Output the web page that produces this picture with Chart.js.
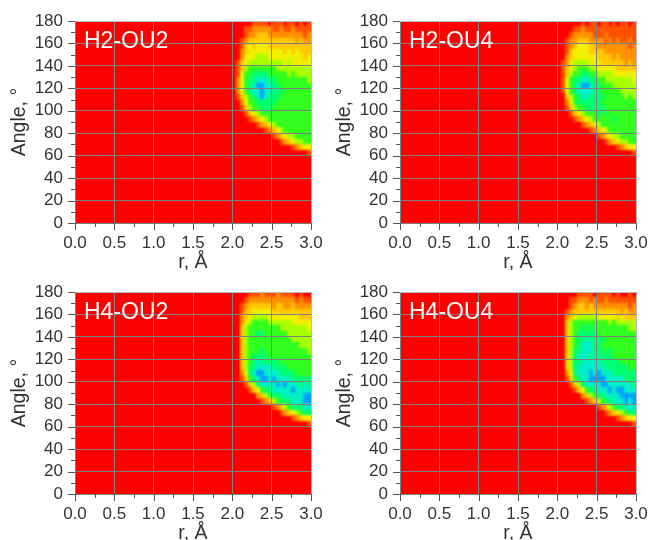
<!DOCTYPE html>
<html><head><meta charset="utf-8">
<style>
html,body{margin:0;padding:0;background:#fff;width:649px;height:540px;overflow:hidden}
.p{position:absolute;width:324px;height:270px;filter:blur(0.45px)}
canvas{display:block}
</style>
<script src="https://cdn.jsdelivr.net/npm/chart.js@4"></script>
</head><body>
<div class="p" style="left:0;top:0"><canvas id="c0" width="324" height="270"></canvas></div>
<div class="p" style="left:324.5px;top:0"><canvas id="c1" width="324" height="270"></canvas></div>
<div class="p" style="left:0;top:271px"><canvas id="c2" width="324" height="270"></canvas></div>
<div class="p" style="left:324.5px;top:271px"><canvas id="c3" width="324" height="270"></canvas></div>
<script>
// cell centres
const rValues=[2.025,2.075,2.125,2.175,2.225,2.275,2.325,2.375,2.425,2.475,2.525,2.575,2.625,2.675,2.725,2.775,2.825,2.875,2.925,2.975];
const angleValues=[177.5,172.5,167.5,162.5,157.5,152.5,147.5,142.5,137.5,132.5,127.5,122.5,117.5,112.5,107.5,102.5,97.5,92.5,87.5,82.5,77.5,72.5,67.5,62.5];
const panelNames=["H2-OU2","H2-OU4","H4-OU2","H4-OU4"];
const xTicks=[0,0.5,1,1.5,2,2.5,3];
const yTicks=[0,20,40,60,80,100,120,140,160,180];
const levelColours=["#ff0000","#ff5000","#ff9000","#ffc800","#f0f000","#a8ff00","#30ff20","#00ff70","#00f0c8","#00a0ff"];
const h2ou2=[
[0,0,0,0,0,1,1,1,1,0,1,1,1,0,1,1,0,1,0,1],
[0,0,0,1,1,2,2,2,2,2,1,1,2,1,1,2,1,1,1,1],
[0,0,0,1,2,2,3,3,3,2,2,2,2,2,2,2,2,2,1,2],
[0,0,1,2,3,3,3,3,3,3,3,3,3,3,3,3,2,3,2,2],
[0,0,1,3,4,3,4,4,4,3,3,3,3,3,3,3,3,3,3,3],
[0,0,2,3,4,4,4,4,4,4,4,4,4,3,4,3,4,3,3,3],
[0,0,2,4,4,4,5,5,5,4,4,4,4,4,4,4,4,4,3,4],
[0,1,3,4,5,5,5,5,5,5,5,5,5,4,5,4,4,4,4,4],
[0,1,3,5,6,6,6,6,6,6,6,5,5,5,5,5,5,5,5,5],
[0,1,4,6,6,7,7,7,7,6,6,6,6,6,5,6,5,5,5,5],
[0,2,4,6,7,7,8,8,8,7,7,6,6,6,6,6,6,6,6,5],
[0,2,4,6,7,8,9,9,8,8,7,7,6,6,6,6,6,6,6,6],
[0,2,4,6,7,8,8,9,8,8,7,7,7,6,6,6,6,6,6,6],
[0,1,3,5,6,7,8,9,8,7,7,7,6,6,6,6,6,6,6,6],
[0,0,2,4,6,6,7,7,7,7,7,6,6,6,6,6,6,6,6,6],
[0,0,1,3,5,6,6,7,7,7,6,6,6,6,6,6,6,6,6,6],
[0,0,0,1,3,4,5,6,6,6,6,6,6,6,6,6,6,6,6,6],
[0,0,0,0,1,2,3,4,5,6,6,6,6,6,6,6,6,6,6,6],
[0,0,0,0,0,0,1,2,3,4,5,6,6,6,6,6,6,6,6,6],
[0,0,0,0,0,0,0,0,1,2,3,4,5,6,6,6,6,6,6,6],
[0,0,0,0,0,0,0,0,0,0,1,2,3,4,5,5,6,6,6,6],
[0,0,0,0,0,0,0,0,0,0,0,0,1,2,3,4,5,5,6,6],
[0,0,0,0,0,0,0,0,0,0,0,0,0,0,0,1,2,3,4,4],
[0,0,0,0,0,0,0,0,0,0,0,0,0,0,0,0,0,0,0,1]];
const h2ou4=[
[0,0,0,0,0,0,1,0,1,1,0,1,1,0,1,0,1,1,0,1],
[0,0,0,0,1,1,2,1,1,1,1,1,1,1,1,1,1,1,1,1],
[0,0,0,1,2,2,2,2,2,1,1,1,2,1,1,1,1,1,1,1],
[0,0,1,2,2,3,3,3,2,2,2,2,1,2,1,2,1,1,2,1],
[0,0,1,2,3,4,4,4,3,3,2,2,2,2,2,2,2,2,1,2],
[0,0,1,3,4,4,4,4,3,3,3,3,2,2,2,2,2,2,2,2],
[0,0,2,3,4,4,4,4,4,4,3,3,3,3,2,3,2,2,2,2],
[0,1,2,4,5,5,5,5,4,4,4,3,3,3,3,3,3,2,3,2],
[0,1,3,4,5,6,6,6,5,5,4,4,4,4,4,3,3,3,3,3],
[0,1,3,5,6,6,7,7,6,6,5,5,5,5,4,4,4,4,4,4],
[0,1,4,6,7,7,8,8,7,7,6,6,5,5,5,5,5,5,5,4],
[0,1,4,6,7,8,9,9,8,7,7,6,6,6,5,5,5,5,5,5],
[0,1,4,6,7,8,8,8,8,7,7,6,6,6,6,6,5,5,5,5],
[0,0,3,5,6,7,8,8,7,7,7,7,6,6,6,6,6,5,6,5],
[0,0,2,4,6,7,7,7,7,7,7,6,6,6,6,6,6,6,6,6],
[0,0,1,3,5,6,6,7,7,7,7,7,6,6,6,6,6,6,6,6],
[0,0,0,1,3,4,5,6,6,6,7,6,7,6,6,6,6,6,6,6],
[0,0,0,0,1,2,3,4,5,6,6,6,6,6,7,6,6,6,6,6],
[0,0,0,0,0,0,1,2,3,4,5,6,6,6,6,6,6,6,6,6],
[0,0,0,0,0,0,0,0,1,2,3,4,5,6,6,6,6,6,6,6],
[0,0,0,0,0,0,0,0,0,0,1,2,3,4,5,5,6,6,6,6],
[0,0,0,0,0,0,0,0,0,0,0,0,1,2,3,4,5,5,6,6],
[0,0,0,0,0,0,0,0,0,0,0,0,0,0,0,1,2,3,4,4],
[0,0,0,0,0,0,0,0,0,0,0,0,0,0,0,0,0,0,0,1]];
const h4ou2=[
[0,0,0,0,1,1,1,2,1,1,1,2,1,1,1,1,0,1,0,0],
[0,0,0,1,2,2,2,2,2,2,2,2,2,2,2,2,1,2,1,1],
[0,0,1,2,3,3,3,3,3,3,2,3,3,2,2,3,2,2,2,2],
[0,0,1,3,3,4,4,4,4,4,3,3,3,3,3,3,3,3,3,3],
[0,0,2,3,4,5,5,5,5,4,4,4,4,4,4,4,4,3,3,3],
[0,0,2,4,5,6,6,6,6,5,5,5,5,5,5,4,4,4,4,4],
[0,0,3,5,6,6,6,6,6,6,6,6,5,5,5,5,5,5,5,4],
[0,0,3,5,6,6,7,7,6,6,6,6,6,6,5,5,5,5,5,5],
[0,0,3,5,6,6,6,6,6,6,6,6,6,6,6,5,5,5,5,5],
[0,0,3,5,6,6,6,6,6,6,6,6,6,6,6,6,6,5,5,5],
[0,0,3,5,6,6,6,7,6,6,6,6,6,6,6,6,6,6,6,5],
[0,0,3,5,6,7,7,7,7,6,6,6,6,6,6,6,6,6,6,6],
[0,0,3,5,6,7,8,7,7,7,7,7,6,6,6,6,6,6,6,6],
[0,0,3,5,7,7,8,8,8,8,7,7,7,7,6,6,6,6,6,6],
[0,0,2,4,7,8,9,9,8,8,8,8,7,7,7,7,6,6,6,6],
[0,0,1,3,6,7,8,9,9,8,9,8,8,8,8,7,7,7,7,7],
[0,0,0,1,3,5,7,8,8,8,8,9,8,9,8,8,8,7,8,7],
[0,0,0,0,1,3,4,6,7,7,8,8,8,8,8,9,8,8,8,8],
[0,0,0,0,0,0,2,3,5,6,7,7,7,8,8,8,8,8,9,9],
[0,0,0,0,0,0,0,1,2,3,5,6,7,7,7,8,8,8,9,9],
[0,0,0,0,0,0,0,0,0,0,1,2,3,5,6,7,7,7,8,8],
[0,0,0,0,0,0,0,0,0,0,0,0,1,2,3,4,5,6,7,7],
[0,0,0,0,0,0,0,0,0,0,0,0,0,0,0,1,2,3,4,4],
[0,0,0,0,0,0,0,0,0,0,0,0,0,0,0,0,0,0,0,1]];
const h4ou4=[
[0,0,0,0,0,1,1,1,1,0,1,1,1,1,0,1,0,0,1,0],
[0,0,0,1,1,2,2,2,1,2,1,1,2,1,1,1,1,1,1,1],
[0,0,0,1,2,3,3,2,3,2,2,2,2,2,2,2,2,2,1,2],
[0,0,1,2,3,3,3,3,3,3,3,3,3,3,3,3,2,3,2,2],
[0,0,2,3,4,5,5,5,5,5,4,4,4,4,4,3,4,3,3,3],
[0,0,3,5,6,6,6,6,6,6,6,6,6,5,6,5,5,5,5,5],
[0,0,3,5,6,6,7,6,7,6,6,6,6,6,6,6,6,6,5,5],
[0,0,3,5,6,7,7,7,7,7,6,6,6,6,6,6,6,6,6,6],
[0,0,3,5,6,7,7,8,7,7,7,7,6,6,6,6,6,6,6,6],
[0,0,3,5,6,7,8,8,8,7,7,6,6,6,6,6,6,6,6,6],
[0,0,3,5,7,7,8,8,8,7,7,7,6,7,6,6,6,6,6,6],
[0,0,3,5,7,8,8,8,7,8,7,7,7,7,6,6,6,6,6,6],
[0,0,3,5,7,7,8,8,8,8,8,7,7,7,7,7,6,6,6,6],
[0,0,3,5,7,8,8,8,8,8,8,8,7,7,7,7,7,7,6,6],
[0,0,2,4,7,8,8,8,9,8,9,8,8,8,7,7,7,7,7,7],
[0,0,1,3,6,7,8,8,9,9,9,9,8,8,8,8,8,7,7,7],
[0,0,0,1,3,5,7,8,8,8,8,9,9,8,8,8,8,8,8,7],
[0,0,0,0,1,3,4,6,7,7,8,8,8,9,8,9,9,8,8,8],
[0,0,0,0,0,0,2,3,5,6,7,7,8,8,8,8,9,9,9,9],
[0,0,0,0,0,0,0,1,2,3,5,6,7,7,8,8,8,9,8,9],
[0,0,0,0,0,0,0,0,0,0,1,2,3,5,6,7,7,8,8,8],
[0,0,0,0,0,0,0,0,0,0,0,0,1,2,3,4,5,6,7,7],
[0,0,0,0,0,0,0,0,0,0,0,0,0,0,0,1,2,3,4,4],
[0,0,0,0,0,0,0,0,0,0,0,0,0,0,0,0,0,0,0,1]];
const panels=[h2ou2,h2ou4,h4ou2,h4ou4];

const swatches=levelColours.map(c=>{const k=document.createElement('canvas');k.width=4;k.height=6;const g=k.getContext('2d');g.fillStyle=c;g.fillRect(0,0,4,6);return k;});
const FONT="'Liberation Sans',Arial,sans-serif", INK="#333333", GRID="#808080";

const frame={id:'frame',
 beforeDatasetsDraw(ch){const a=ch.chartArea,c=ch.ctx;c.save();c.fillStyle=levelColours[0];c.fillRect(a.left,a.top,a.right-a.left,a.bottom-a.top);c.restore();},
 afterDatasetsDraw(ch){const a=ch.chartArea,c=ch.ctx,d=ch.currentDevicePixelRatio,w=a.right-a.left,h=a.bottom-a.top;
  c.save();c.beginPath();c.rect(a.left,a.top,w,h);c.clip();c.filter='blur(1.2px)';
  c.drawImage(c.canvas,a.left*d,a.top*d,w*d,h*d,a.left,a.top,w,h);c.restore();},
 afterDraw(ch,_,o){const a=ch.chartArea,c=ch.ctx;c.save();
  c.strokeStyle="#555555";c.lineWidth=1;c.beginPath();
  ch.scales.x.ticks.forEach(t=>{const p=Math.round(ch.scales.x.getPixelForValue(t.value))+.5;const maj=xTicks.some(v=>Math.abs(v-t.value)<1e-6);c.moveTo(p,a.bottom);c.lineTo(p,a.bottom+(maj?7:4));});
  ch.scales.y.ticks.forEach(t=>{const p=Math.round(ch.scales.y.getPixelForValue(t.value))+.5;const maj=yTicks.includes(t.value);c.moveTo(a.left,p);c.lineTo(a.left-(maj?7:4),p);});
  c.stroke();
  c.strokeStyle="#bbbbbb";c.beginPath();c.moveTo(a.left,a.top+.5);c.lineTo(a.right+.5,a.top+.5);c.lineTo(a.right+.5,a.bottom);c.stroke();
  c.fillStyle="#ffffff";c.font="23px "+FONT;c.textBaseline="middle";c.fillText(o.label,a.left+9,a.top+21);
  c.restore();}
};

panels.forEach((grid,i)=>{
 const cells=[];
 grid.forEach((row,j)=>row.forEach((v,k)=>{if(v>0)cells.push({x:rValues[k],y:angleValues[j],v});}));
 new Chart(document.getElementById('c'+i),{
  type:'scatter',
  data:{datasets:[{label:panelNames[i],data:cells,pointRadius:1,pointHoverRadius:1,borderWidth:0,
    pointStyle:ctx=>swatches[ctx.raw?ctx.raw.v:0]}]},
  plugins:[frame],
  options:{responsive:false,animation:false,events:[],
   layout:{padding:{top:21,right:13,left:0,bottom:0}},
   plugins:{legend:{display:false},tooltip:{enabled:false},frame:{label:panelNames[i]}},
   scales:{
    x:{type:'linear',min:0,max:3,afterFit(s){s.height=47;s.paddingRight=0;s.paddingLeft=0;},
     grid:{z:1,drawTicks:false,color:c=>xTicks.some(v=>Math.abs(v-c.tick.value)<1e-6)?GRID:'rgba(0,0,0,0)',lineWidth:1},
     border:{display:false},
     ticks:{stepSize:0.25,autoSkip:false,maxRotation:0,padding:10,color:INK,font:{family:FONT,size:17},
       callback:v=>xTicks.some(t=>Math.abs(t-v)<1e-6)?v.toFixed(1):''},
     title:{display:true,text:'r, Å',color:INK,font:{family:FONT,size:19.5},padding:{top:0,bottom:-4}}},
    y:{type:'linear',min:0,max:180,afterFit(s){s.width=75;s.paddingTop=0;s.paddingBottom=0;},
     grid:{z:1,drawTicks:false,color:c=>yTicks.includes(c.tick.value)?GRID:'rgba(0,0,0,0)',lineWidth:1},
     border:{display:false},
     ticks:{stepSize:10,autoSkip:false,padding:12,color:INK,font:{family:FONT,size:17},
       callback:v=>yTicks.includes(v)?String(v):''},
     title:{display:true,text:'Angle, °',color:INK,font:{family:FONT,size:19.5},padding:{top:8,bottom:0}}}
   }}
 });
});
</script>
</body></html>
